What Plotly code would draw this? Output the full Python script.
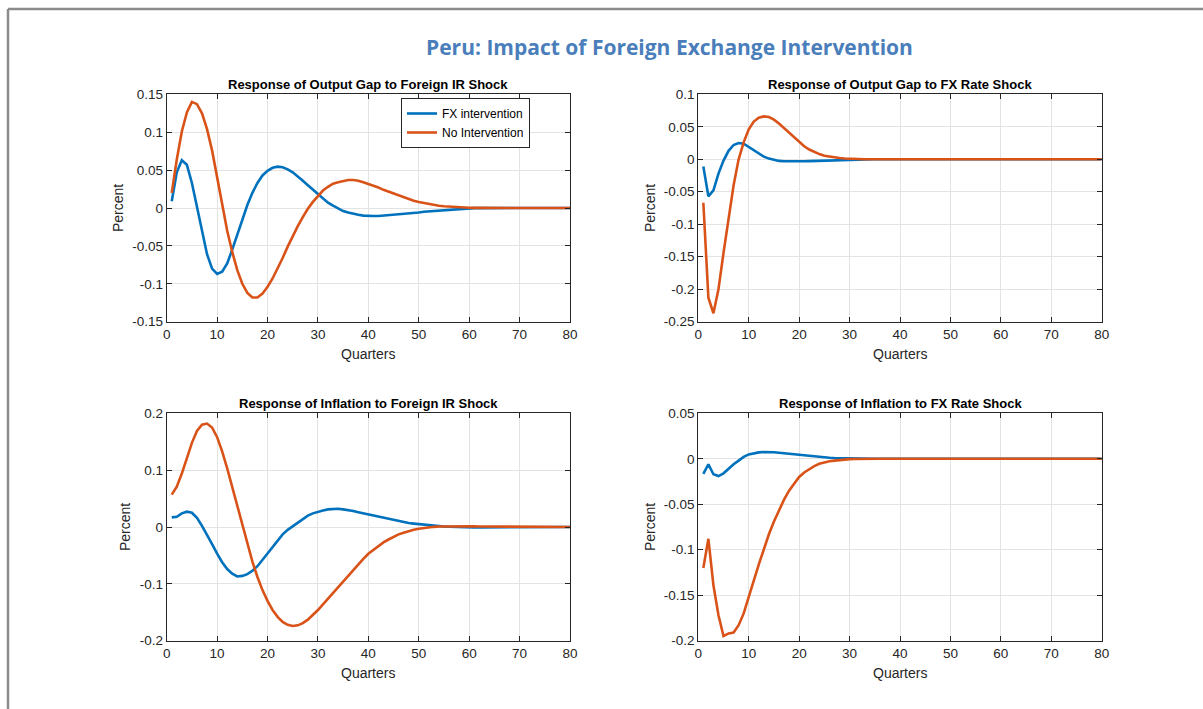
import plotly.graph_objects as go

quarters = list(range(1, 81))

# Response of Output Gap to Foreign IR Shock
og_ir_fx = [0.009, 0.047, 0.063, 0.057, 0.033, 0.002, -0.032, -0.061, -0.080, -0.087,
            -0.084, -0.073, -0.055, -0.035, -0.015, 0.004, 0.020, 0.033, 0.043, 0.049,
            0.053, 0.0545, 0.0537, 0.051, 0.047, 0.042, 0.036, 0.030, 0.024, 0.018,
            0.012, 0.007, 0.003, -0.0005, -0.004, -0.006, -0.008, -0.009, -0.010, -0.0105,
            -0.0105, -0.0105, -0.010, -0.0098, -0.009, -0.0085, -0.008, -0.0072, -0.0065, -0.006,
            -0.005, -0.0045, -0.004, -0.003, -0.0025, -0.002, -0.0015, -0.001, -0.0007, -0.0004,
            -0.0002, -0.0001, 0, 0, 0, 0, 0, 0, 0, 0,
            0, 0, 0, 0, 0, 0, 0, 0, 0, 0]
og_ir_no = [0.020, 0.064, 0.101, 0.126, 0.140, 0.137, 0.125, 0.104, 0.076, 0.041,
            0.004, -0.030, -0.058, -0.082, -0.100, -0.112, -0.118, -0.118, -0.113, -0.104,
            -0.093, -0.080, -0.066, -0.051, -0.037, -0.024, -0.012, -0.001, 0.008, 0.016,
            0.023, 0.028, 0.032, 0.034, 0.036, 0.037, 0.037, 0.036, 0.034, 0.032,
            0.0295, 0.027, 0.024, 0.0215, 0.019, 0.016, 0.0135, 0.0115, 0.0095, 0.008,
            0.0065, 0.005, 0.004, 0.003, 0.0023, 0.0017, 0.0012, 0.0008, 0.0005, 0.0003,
            0.0002, 0.0001, 0, 0, 0, 0, 0, 0, 0, 0,
            0, 0, 0, 0, 0, 0, 0, 0, 0, 0]

# Response of Output Gap to FX Rate Shock
og_fx_fx = [-0.011, -0.057, -0.048, -0.022, -0.002, 0.013, 0.022, 0.025, 0.024, 0.019,
            0.013, 0.008, 0.004, 0.001, -0.001, -0.0025, -0.003, -0.0032, -0.0032, -0.003,
            -0.003, -0.0028, -0.0025, -0.0022, -0.0019, -0.0016, -0.0013, -0.001, -0.0007, -0.0004,
            -0.0002, 0, 0, 0, 0, 0, 0, 0, 0, 0,
            0, 0, 0, 0, 0, 0, 0, 0, 0, 0,
            0, 0, 0, 0, 0, 0, 0, 0, 0, 0,
            0, 0, 0, 0, 0, 0, 0, 0, 0, 0,
            0, 0, 0, 0, 0, 0, 0, 0, 0, 0]
og_fx_no = [-0.067, -0.213, -0.237, -0.200, -0.144, -0.090, -0.040, 0.000, 0.026, 0.046,
            0.058, 0.064, 0.066, 0.065, 0.061, 0.055, 0.048, 0.040, 0.033, 0.026,
            0.020, 0.015, 0.011, 0.008, 0.0055, 0.004, 0.0028, 0.0019, 0.0012, 0.0007,
            0.0003, 0.0001, 0, 0, 0, 0, 0, 0, 0, 0,
            0, 0, 0, 0, 0, 0, 0, 0, 0, 0,
            0, 0, 0, 0, 0, 0, 0, 0, 0, 0,
            0, 0, 0, 0, 0, 0, 0, 0, 0, 0,
            0, 0, 0, 0, 0, 0, 0, 0, 0, 0]

# Response of Inflation to Foreign IR Shock
inf_ir_fx = [0.017, 0.018, 0.024, 0.027, 0.025, 0.016, 0.002, -0.013, -0.030, -0.047,
             -0.062, -0.074, -0.082, -0.087, -0.086, -0.083, -0.077, -0.069, -0.058, -0.046,
             -0.035, -0.023, -0.013, -0.005, 0.001, 0.008, 0.014, 0.020, 0.024, 0.027,
             0.029, 0.031, 0.032, 0.032, 0.031, 0.030, 0.028, 0.026, 0.024, 0.022,
             0.020, 0.018, 0.016, 0.014, 0.012, 0.010, 0.0085, 0.007, 0.006, 0.005,
             0.004, 0.003, 0.0022, 0.0015, 0.001, 0.0005, 0.0, -0.0003, -0.0005, -0.0006,
             -0.0007, -0.0007, -0.0007, -0.0006, -0.0006, -0.0005, -0.0004, -0.0003, -0.0002, -0.0001,
             0, 0, 0, 0, 0, 0, 0, 0, 0, 0]
inf_ir_no = [0.057, 0.071, 0.094, 0.121, 0.148, 0.169, 0.180, 0.182, 0.175, 0.158,
             0.133, 0.103, 0.070, 0.036, 0.003, -0.031, -0.061, -0.088, -0.111, -0.130,
             -0.146, -0.158, -0.167, -0.172, -0.174, -0.173, -0.169, -0.163, -0.155, -0.146,
             -0.136, -0.126, -0.116, -0.105, -0.095, -0.085, -0.075, -0.065, -0.056, -0.047,
             -0.040, -0.033, -0.027, -0.022, -0.017, -0.013, -0.010, -0.007, -0.005, -0.003,
             -0.0015, -0.0005, 0.0003, 0.0008, 0.001, 0.0012, 0.0013, 0.0013, 0.0013, 0.0012,
             0.0011, 0.001, 0.0009, 0.0008, 0.0007, 0.0006, 0.0004, 0.0002, 0.0001, 0,
             0, 0, 0, 0, 0, 0, 0, 0, 0, 0]

# Response of Inflation to FX Rate Shock
inf_fx_fx = [-0.0165, -0.006, -0.017, -0.019, -0.016, -0.0105, -0.006, -0.002, 0.002, 0.0048,
             0.0062, 0.007, 0.0075, 0.0075, 0.0072, 0.0066, 0.006, 0.0053, 0.0046, 0.004,
             0.0034, 0.0028, 0.0023, 0.0018, 0.0014, 0.0011, 0.0008, 0.0006, 0.0004, 0.0002,
             0.0001, 0, 0, 0, 0, 0, 0, 0, 0, 0,
             0, 0, 0, 0, 0, 0, 0, 0, 0, 0,
             0, 0, 0, 0, 0, 0, 0, 0, 0, 0,
             0, 0, 0, 0, 0, 0, 0, 0, 0, 0,
             0, 0, 0, 0, 0, 0, 0, 0, 0, 0]
inf_fx_no = [-0.120, -0.088, -0.139, -0.172, -0.195, -0.192, -0.191, -0.183, -0.170, -0.153,
             -0.134, -0.116, -0.099, -0.083, -0.069, -0.056, -0.045, -0.035, -0.027, -0.020,
             -0.015, -0.011, -0.008, -0.0055, -0.004, -0.0028, -0.002, -0.0013, -0.0008, -0.0004,
             -0.0002, 0, 0, 0, 0, 0, 0, 0, 0, 0,
             0, 0, 0, 0, 0, 0, 0, 0, 0, 0,
             0, 0, 0, 0, 0, 0, 0, 0, 0, 0,
             0, 0, 0, 0, 0, 0, 0, 0, 0, 0,
             0, 0, 0, 0, 0, 0, 0, 0, 0, 0]

series_names = ["FX intervention", "No Intervention"]
panel_titles = ["Response of Output Gap to Foreign IR Shock",
                "Response of Output Gap to FX Rate Shock",
                "Response of Inflation to Foreign IR Shock",
                "Response of Inflation to FX Rate Shock"]
main_title = "Peru: Impact of Foreign Exchange Intervention"
x_label = "Quarters"
y_label = "Percent"

x_tickvals = [0, 10, 20, 30, 40, 50, 60, 70, 80]
x_ticktext = ["0", "10", "20", "30", "40", "50", "60", "70", "80"]
y1_tickvals = [-0.15, -0.1, -0.05, 0, 0.05, 0.1, 0.15]
y1_ticktext = ["-0.15", "-0.1", "-0.05", "0", "0.05", "0.1", "0.15"]
y2_tickvals = [-0.25, -0.2, -0.15, -0.1, -0.05, 0, 0.05, 0.1]
y2_ticktext = ["-0.25", "-0.2", "-0.15", "-0.1", "-0.05", "0", "0.05", "0.1"]
y3_tickvals = [-0.2, -0.1, 0, 0.1, 0.2]
y3_ticktext = ["-0.2", "-0.1", "0", "0.1", "0.2"]
y4_tickvals = [-0.2, -0.15, -0.1, -0.05, 0, 0.05]
y4_ticktext = ["-0.2", "-0.15", "-0.1", "-0.05", "0", "0.05"]

BLUE = "#0072BD"
ORANGE = "#D95319"
AX = "#262626"
FONT = "Liberation Sans, Arial, sans-serif"
W, H = 1203, 709

panels = [
    (og_ir_fx, og_ir_no, y1_tickvals, y1_ticktext, [-0.15, 0.15]),
    (og_fx_fx, og_fx_no, y2_tickvals, y2_ticktext, [-0.25, 0.1]),
    (inf_ir_fx, inf_ir_no, y3_tickvals, y3_ticktext, [-0.2, 0.2]),
    (inf_fx_fx, inf_fx_no, y4_tickvals, y4_ticktext, [-0.2, 0.05]),
]

# layout geometry (pixels)
x_doms_px = [(166.7, 570.0), (698.3, 1101.7)]
y_doms_px = [(94.3, 321.7), (413.3, 640.7)]
ylab_x_px = [118, 650, 125, 650]

fig = go.Figure()
layout = dict(width=W, height=H, autosize=False,
              margin=dict(l=0, r=0, t=0, b=0, pad=0, autoexpand=False),
              paper_bgcolor="white", plot_bgcolor="white",
              font=dict(family=FONT, color=AX, size=13.5),
              showlegend=True)
annotations = []

for i, (fx, no, ytv, ytt, yr) in enumerate(panels):
    n = i + 1
    suffix = "" if n == 1 else str(n)
    col = i % 2
    row = i // 2
    x0, x1 = x_doms_px[col]
    yt, yb = y_doms_px[row]
    fig.add_trace(go.Scatter(x=quarters, y=fx, mode="lines", name=series_names[0],
                             line=dict(color=BLUE, width=2.6), showlegend=(i == 0),
                             xaxis="x" + suffix, yaxis="y" + suffix))
    fig.add_trace(go.Scatter(x=quarters, y=no, mode="lines", name=series_names[1],
                             line=dict(color=ORANGE, width=2.6), showlegend=(i == 0),
                             xaxis="x" + suffix, yaxis="y" + suffix))
    common = dict(showline=True, linecolor=AX, linewidth=1, mirror="allticks",
                  ticks="inside", ticklen=5, tickcolor=AX, tickwidth=1,
                  showgrid=True, gridcolor="#e3e3e3", gridwidth=1, zeroline=False,
                  automargin=False,
                  tickfont=dict(family=FONT, size=13.5, color=AX))
    layout["xaxis" + suffix] = dict(common, domain=[x0 / W, x1 / W], range=[0, 80],
                                    tickmode="array", tickvals=x_tickvals, ticktext=x_ticktext,
                                    anchor="y" + suffix)
    layout["yaxis" + suffix] = dict(common, domain=[1 - yb / H, 1 - yt / H], range=yr,
                                    tickmode="array", tickvals=ytv, ticktext=ytt,
                                    anchor="x" + suffix)
    xc = (x0 + x1) / 2
    annotations.append(dict(text="<b>" + panel_titles[i] + "</b>", x=xc / W, y=1 - (yt - 10) / H,
                            xref="paper", yref="paper", showarrow=False,
                            xanchor="center", yanchor="middle",
                            font=dict(family=FONT, size=13, color="black")))
    annotations.append(dict(text=x_label, x=xc / W, y=1 - (yb + 32.5) / H,
                            xref="paper", yref="paper", showarrow=False,
                            xanchor="center", yanchor="middle",
                            font=dict(family=FONT, size=14, color=AX)))
    annotations.append(dict(text=y_label, x=ylab_x_px[i] / W, y=1 - ((yt + yb) / 2) / H,
                            xref="paper", yref="paper", showarrow=False, textangle=-90,
                            xanchor="center", yanchor="middle",
                            font=dict(family=FONT, size=14, color=AX)))

annotations.append(dict(text="<b>" + main_title + "</b>", x=669 / W, y=1 - 47 / H,
                        xref="paper", yref="paper", showarrow=False,
                        xanchor="center", yanchor="middle",
                        font=dict(family="Open Sans, sans-serif", size=21, color="#4a7ebb")))

layout["annotations"] = annotations
layout["legend"] = dict(x=401 / W, y=1 - 98 / H, xanchor="left", yanchor="top",
                        bgcolor="white", bordercolor=AX, borderwidth=1,
                        font=dict(family=FONT, size=12, color="black"),
                        tracegroupgap=0, itemwidth=30)
layout["shapes"] = [
    dict(type="line", xref="paper", yref="paper", x0=8 / W, x1=1, y0=1 - 9 / H, y1=1 - 9 / H,
         line=dict(color="#8c8c8c", width=2.5)),
    dict(type="line", xref="paper", yref="paper", x0=8 / W, x1=8 / W, y0=0, y1=1 - 9 / H,
         line=dict(color="#8c8c8c", width=2.5)),
]
fig.update_layout(**layout)
fig.write_html("out.html",
               config={"displayModeBar": False},
               post_script="document.body.style.margin='0px';document.body.style.overflow='hidden';")
